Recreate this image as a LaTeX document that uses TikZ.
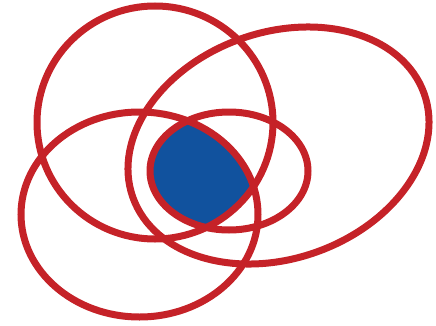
\documentclass[tikz,border=0pt]{standalone}
\definecolor{ringred}{RGB}{197,34,40}
\definecolor{coreblue}{RGB}{17,82,158}
\begin{document}
\begin{tikzpicture}[x=1pt, y=1pt, ring/.style={draw=ringred, line width=7pt}]
    \useasboundingbox (0,0) rectangle (436,325);

    % Core (A and C and D)
    \begin{scope}
        \clip (155,202.5) ellipse (118 and 116.5);
        \clip (139.5,110.5) ellipse (118.5 and 102.5);
        \fill[coreblue] (229,154) ellipse (79 and 59);
    \end{scope}

    % Rings
    \draw[ring] (155,202.5) ellipse (118 and 116.5);
    \draw[ring, rotate around={19.6:(278.5,179.5)}] (278.5,179.5) ellipse (154.6 and 113.1);
    \draw[ring] (139.5,110.5) ellipse (118.5 and 102.5);
    \draw[ring] (229,154) ellipse (79 and 59);
\end{tikzpicture}
\end{document}
